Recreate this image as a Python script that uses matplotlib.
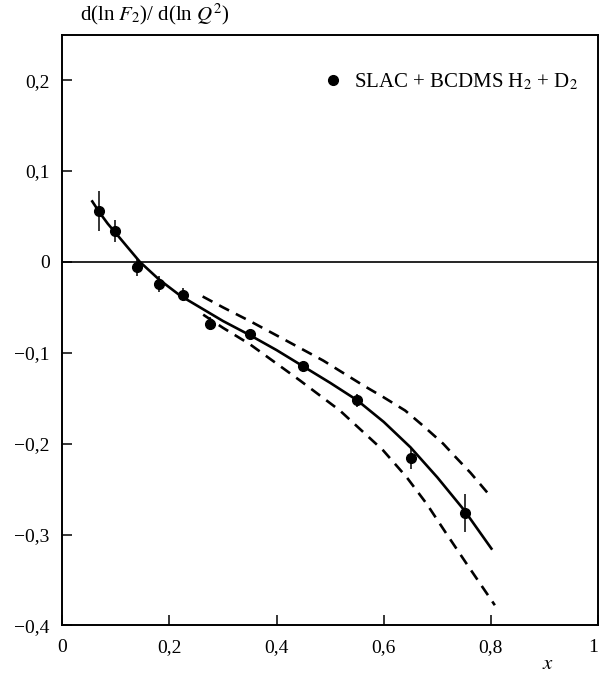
import matplotlib
matplotlib.use("Agg")
import matplotlib.pyplot as plt
from matplotlib.lines import Line2D

plt.rcParams['font.family'] = ['Liberation Serif', 'DejaVu Serif']
plt.rcParams['mathtext.fontset'] = 'stix'
plt.rcParams['lines.scale_dashes'] = False

# Data points (SLAC + BCDMS H2 + D2)
x_data = [0.0685, 0.098, 0.139, 0.180, 0.225, 0.275, 0.350, 0.450, 0.550, 0.650, 0.751]
y_data = [0.0556, 0.0344, -0.0060, -0.0246, -0.0360, -0.0680, -0.0790, -0.1150, -0.1524, -0.2154, -0.2763]
y_err = [0.022, 0.012, 0.009, 0.009, 0.007, 0.007, 0.005, 0.006, 0.007, 0.012, 0.021]

# Solid curve (fit)
x_fit = [0.056, 0.070, 0.085, 0.098, 0.120, 0.145, 0.180, 0.220, 0.260, 0.300, 0.350, 0.400,
         0.450, 0.500, 0.550, 0.600, 0.650, 0.700, 0.750, 0.801]
y_fit = [0.0666, 0.054, 0.042, 0.033, 0.0175, 0.0, -0.019, -0.037, -0.051, -0.065, -0.0805, -0.097,
         -0.115, -0.133, -0.152, -0.176, -0.204, -0.237, -0.273, -0.3154]

# Upper dashed curve
x_up = [0.262, 0.300, 0.350, 0.412, 0.487, 0.562, 0.600, 0.640, 0.675, 0.711, 0.733, 0.762, 0.798]
y_up = [-0.038, -0.050, -0.065, -0.0846, -0.1085, -0.1359, -0.149, -0.1635, -0.181, -0.200, -0.214, -0.232, -0.257]

# Lower dashed curve
x_lo = [0.263, 0.300, 0.350, 0.4436, 0.518, 0.599, 0.6426, 0.680, 0.717, 0.7546, 0.8074]
y_lo = [-0.058, -0.0725, -0.0905, -0.1304, -0.1634, -0.2074, -0.2367, -0.266, -0.299, -0.332, -0.3777]

x_ticks = [0, 0.2, 0.4, 0.6, 0.8, 1.0]
x_ticklabels = ['0', '0,2', '0,4', '0,6', '0,8', '1']
y_ticks = [-0.4, -0.3, -0.2, -0.1, 0, 0.1, 0.2]
y_ticklabels = ['\u22120,4', '\u22120,3', '\u22120,2', '\u22120,1', '0', '0,1', '0,2']

fig = plt.figure(figsize=(6.0, 6.77), dpi=100)
ax = fig.add_axes([0.1038, 0.0761, 0.8929, 0.8726])

ax.axhline(0, color='black', lw=1.2, zorder=1)
ax.plot(x_fit, y_fit, color='black', lw=1.9, zorder=2)
ax.plot(x_up, y_up, color='black', lw=1.9, linestyle=(0, (8, 5.5)), zorder=2)
ax.plot(x_lo, y_lo, color='black', lw=1.9, linestyle=(0, (8, 5.5)), zorder=2)
ax.errorbar(x_data, y_data, yerr=y_err, fmt='o', color='black', ms=7,
            elinewidth=1.1, capsize=0, zorder=3)

ax.set_xlim(0, 1)
ax.set_ylim(-0.4, 0.25)
ax.set_xticks(x_ticks)
ax.set_xticklabels(x_ticklabels)
ax.set_yticks(y_ticks)
ax.set_yticklabels(y_ticklabels)
ax.tick_params(direction='in', length=7, width=1.1, labelsize=14, pad=9,
               top=False, right=False)
ax.tick_params(axis='x', pad=10)
ax.get_xticklabels()[-1].set_horizontalalignment('right')
for s in ax.spines.values():
    s.set_linewidth(1.4)

handle = Line2D([], [], marker='o', color='black', linestyle='none', ms=7)
ax.legend([handle], ['SLAC + BCDMS H$_2$ + D$_2$'], loc='upper right',
          bbox_to_anchor=(0.99, 0.962), frameon=False, fontsize=15,
          handlelength=0.8, handletextpad=0.6, borderpad=0.2)

fig.text(0.258, 0.979, r'd(ln $F_2$)/ d(ln $Q^2$)', ha='center', va='center', fontsize=15)
fig.text(0.913, 0.018, '$x$', ha='center', va='center', fontsize=15)

fig.savefig('out.png', dpi=100)
